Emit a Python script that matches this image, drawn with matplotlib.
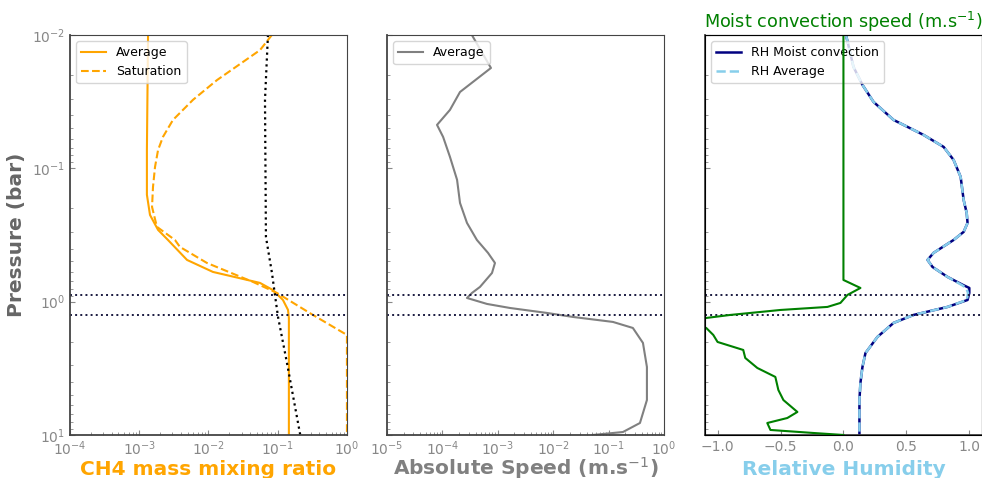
import matplotlib
matplotlib.use('Agg')
import matplotlib.pyplot as plt
import numpy as np

# pressure levels (bar) and profiles
p_ch4_avg = [0.01, 0.073, 0.158, 0.224, 0.29, 0.345, 0.487, 0.599, 0.724, 0.818, 0.972, 1.155, 1.326, 10.0]
ch4_avg = [1.34e-3, 1.29e-3, 1.29e-3, 1.43e-3, 1.87e-3, 2.6e-3, 4.9e-3, 1.16e-2, 5.55e-2, 8.5e-2,
           0.119, 0.141, 0.145, 0.145]

p_ch4_sat = [0.01, 0.013, 0.0218, 0.0307, 0.0434, 0.0582, 0.0729, 0.0977, 0.138, 0.195, 0.275, 0.345,
             0.389, 0.513, 0.712, 0.861, 1.259, 1.778, 10.0]
ch4_sat = [0.0826, 0.0555, 0.0133, 5.97e-3, 3.07e-3, 2.2e-3, 1.87e-3, 1.69e-3, 1.58e-3, 1.53e-3, 1.80e-3,
           3.28e-3, 3.87e-3, 9.5e-3, 0.044, 0.0975, 0.323, 1.0, 1.0]

p_ref = [0.01, 0.0307, 0.327, 0.61, 0.89, 1.30, 2.88, 9.66, 10.0]
ch4_ref = [0.0723, 0.0655, 0.0676, 0.0826, 0.0912, 0.101, 0.136, 0.209, 0.212]

p_speed = [0.01, 0.0177, 0.0268, 0.0365, 0.0473, 0.0582, 0.0822, 0.122, 0.182, 0.257, 0.345, 0.431,
           0.513, 0.61, 0.776, 0.861, 0.939, 1.041, 1.116, 1.216, 1.303, 1.42, 1.576, 2.04, 3.09, 5.47,
           8.13, 9.5, 10.0]
speed = [3.4e-4, 7.53e-4, 2.08e-4, 1.37e-4, 8.0e-5, 1.03e-4, 1.37e-4, 1.84e-4, 2.08e-4, 2.78e-4, 4.2e-4,
         6.66e-4, 8.9e-4, 7.86e-4, 4.77e-4, 3.42e-4, 2.78e-4, 6.4e-4, 1.66e-3, 7.7e-3, 0.0228, 0.12,
         0.275, 0.418, 0.493, 0.493, 0.369, 0.182, 0.052]

p_mc = [0.01, 0.61, 0.688, 0.79, 0.891, 1.023, 1.096, 1.155, 1.259, 1.326, 1.445, 1.576, 1.778, 2.007,
        2.304, 2.645, 3.145, 3.67, 4.6, 5.47, 6.72, 7.46, 8.13, 9.17, 9.66, 10.0]
mc_speed = [0.0, 0.0, 0.0, 0.135, 0.032, -0.024, -0.127, -0.50, -0.90, -1.09, -1.25, -1.09, -1.034, -1.0,
            -0.796, -0.78, -0.684, -0.541, -0.517, -0.477, -0.366, -0.446, -0.605, -0.58, -0.239, 0.0]

p_rh = [0.01, 0.0174, 0.0237, 0.0318, 0.0434, 0.0562, 0.0692, 0.0866, 0.116, 0.173, 0.216, 0.257, 0.300,
        0.345, 0.431, 0.487, 0.55, 0.653, 0.75, 0.79, 0.861, 0.972, 1.096, 1.259, 1.445, 1.84, 2.43, 3.09,
        4.07, 5.47, 10.0]
rh_mc = [0.02, 0.08, 0.151, 0.239, 0.398, 0.636, 0.796, 0.875, 0.931, 0.955, 0.979, 0.986, 0.955, 0.875,
         0.716, 0.668, 0.708, 0.827, 0.95, 1.0, 1.0, 0.986, 0.827, 0.557, 0.398, 0.27, 0.175, 0.151, 0.135,
         0.127, 0.127]
rh_avg = [0.02, 0.08, 0.151, 0.239, 0.398, 0.636, 0.796, 0.875, 0.931, 0.955, 0.979, 0.986, 0.955, 0.875,
          0.716, 0.668, 0.708, 0.827, 0.94, 0.975, 0.99, 0.98, 0.827, 0.557, 0.398, 0.27, 0.175, 0.151,
          0.135, 0.127, 0.127]

p_lcl = [0.89, 1.27]

plt.rcParams['font.family'] = 'DejaVu Sans'
fig = plt.figure(figsize=(9.82, 4.78), dpi=100)
bottom, height, width = 0.09, 0.837, 0.282
ax1 = fig.add_axes([0.0713, bottom, width, height])
ax2 = fig.add_axes([0.3941, bottom, width, height])
ax3 = fig.add_axes([0.7179, bottom, width, height])

xlab = dict(fontsize=14.5, fontweight='bold', va='baseline')

# CH4 panel
ax1.plot(ch4_avg, p_ch4_avg, color='orange', lw=1.5, label='Average')
ax1.plot(ch4_sat, p_ch4_sat, color='orange', lw=1.5, ls='--', label='Saturation')
ax1.plot(ch4_ref, p_ref, color='black', lw=1.6, ls=':')
ax1.set_xscale('log')
ax1.set_xlim(1e-4, 1)
ax1.set_xlabel('CH4 mass mixing ratio', color='orange', **xlab)
ax1.set_ylabel('Pressure (bar)', color='#666666', fontsize=14.5, fontweight='bold')
ax1.legend(loc='upper left', fontsize=9)

# speed panel
ax2.plot(speed, p_speed, color='gray', lw=1.5, label='Average')
ax2.set_xscale('log')
ax2.set_xlim(1e-5, 1)
ax2.set_xlabel('Absolute Speed (m.s$^{-1}$)', color='gray', **xlab)
ax2.legend(loc='upper left', fontsize=9)

# RH panel
ax3.plot(rh_mc, p_rh, color='navy', lw=1.8, label='RH Moist convection')
ax3.plot(rh_avg, p_rh, color='skyblue', lw=1.8, ls='--', label='RH Average')
ax3.set_xlim(-1.1, 1.1)
ax3.set_xticks([-1.0, -0.5, 0.0, 0.5, 1.0])
ax3.set_xlabel('Relative Humidity', color='skyblue', **xlab)
ax3.legend(loc='upper left', fontsize=9)

ax3t = ax3.twiny()
ax3t.plot(mc_speed, p_mc, color='green', lw=1.5)
ax3t.set_xlim(-1.1, 1.1)
ax3t.tick_params(top=False, labeltop=False)
ax3t.set_xlabel('Moist convection speed (m.s$^{-1}$)', color='green', fontsize=12.7, labelpad=5)

for ax in (ax1, ax2, ax3):
    ax.set_yscale('log')
    ax.set_ylim(10, 1e-2)
    for p in p_lcl:
        ax.axhline(p, color='#1a1a40', lw=1.4, ls=':')
    ax.tick_params(which='both', direction='in', colors='#888888', labelsize=10)
    for s in ax.spines.values():
        s.set_color('#444444')
    ax.spines['left'].set_linewidth(1.3)
    ax.spines['bottom'].set_linewidth(1.3)
    ax.xaxis.set_label_coords(0.5, -0.1)

ax2.tick_params(labelleft=False)
ax3.tick_params(labelleft=False)

plt.savefig('out.png', dpi=100)
